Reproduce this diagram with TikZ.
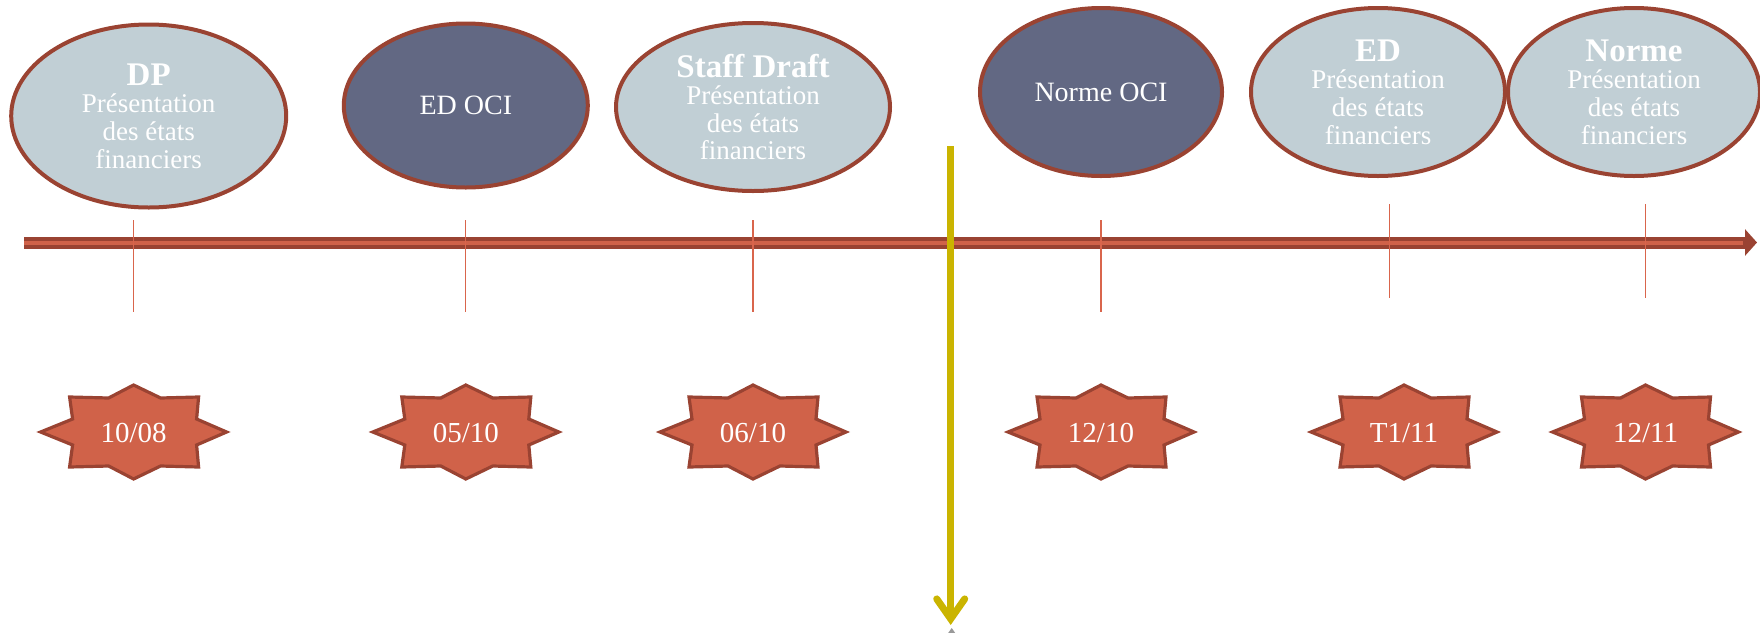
\documentclass[tikz,border=0pt]{standalone}
\usepackage{fontspec}
\setmainfont{Liberation Serif}
\usetikzlibrary{shapes.geometric,arrows.meta}
\definecolor{bordred}{HTML}{9A4332}
\definecolor{lightfill}{HTML}{C1CFD5}
\definecolor{darkfill}{HTML}{626883}
\definecolor{starfill}{HTML}{D06249}
\definecolor{tickred}{HTML}{D9654C}
\definecolor{yel}{HTML}{CAB400}
\newcommand\evttitle[1]{{\fontsize{16.5}{16}\selectfont\bfseries #1}}
\tikzset{
  evt/.style={ellipse, draw=bordred, line width=2pt, inner sep=0pt, text=white, align=center,
    font=\fontsize{13.5}{13.8}\selectfont},
  evtlight/.style={evt, fill=lightfill},
  evtdark/.style={evt, fill=darkfill, font=\fontsize{14}{16}\selectfont},
  datelbl/.style={text=white, inner sep=0pt, font=\fontsize{14.5}{15}\selectfont},
  starpoly/.style={draw=bordred, fill=starfill, line width=1.6pt, line join=miter},
  tickline/.style={draw=tickred, line width=0.6pt}
}
\begin{document}
\begin{tikzpicture}[x=0.5pt,y=-0.5pt]
\useasboundingbox (0,0) rectangle (1760,632);
% ellipses
\node[evtlight, minimum width=137.5pt, minimum height=91.5pt] (e1) at (148.7,116)
  {\evttitle{DP}\\Présentation\\des états\\financiers};
\node[evtdark, minimum width=122pt, minimum height=82pt] (e2) at (465.8,105.5) {ED OCI};
\node[evtlight, minimum width=137pt, minimum height=84pt] (e3) at (753,107)
  {\evttitle{Staff Draft}\\Présentation\\des états\\financiers};
\node[evtdark, minimum width=121pt, minimum height=84pt] (e4) at (1101,92) {Norme OCI};
\node[evtlight, minimum width=127pt, minimum height=84pt] (e5) at (1378,92)
  {\evttitle{ED}\\Présentation\\des états\\financiers};
\node[evtlight, minimum width=126pt, minimum height=84pt] (e6) at (1634,92)
  {\evttitle{Norme}\\Présentation\\des états\\financiers};
% axis
\coordinate (axS) at (24,242.5);
\coordinate (axE) at (1757,242.5);
\draw[bordred, line width=6pt, -{Triangle[length=6pt,width=13pt]}] (axS) -- (axE);
\draw[starfill, line width=2pt, shorten >=7pt] (axS) -- (axE);
% ticks
\foreach \x in {133.6,465.8,753,1101} \draw[tickline] (\x,220) -- (\x,312);
\foreach \x in {1389.6,1645.5} \draw[tickline] (\x,204) -- (\x,297.5);
% stars
\foreach \n/\x/\t in {s1/133.6/10\slash 08, s2/465.8/05\slash 10, s3/753/06\slash 10, s4/1101/12\slash 10, s5/1404/T1\slash 11, s6/1645.5/12\slash 11}{
  \begin{scope}[shift={(\x,432)}]
  \draw[starpoly] (-93,0) -- (-61,-13) -- (-64,-35) -- (-25,-34) -- (0,-47) -- (27,-34) -- (65,-35) -- (63,-13)
    -- (93,0) -- (63,13) -- (65,35) -- (27,34) -- (0,47) -- (-25,34) -- (-64,35) -- (-61,13) -- cycle;
  \end{scope}
  \node[datelbl] (\n) at (\x,433) {\t};
}
% yellow arrow
\coordinate (yS) at (950.7,146);
\coordinate (yE) at (950.7,625);
\draw[gray!80, line width=3.2pt, line cap=round, -{Straight Barb[length=10pt,width=14pt,line cap=round]}, transform canvas={xshift=0.5pt,yshift=-1.5pt}] ([yshift=-30pt]yE) -- (yE);
\draw[yel, line width=3.5pt, -{Straight Barb[length=10pt,width=14pt,line cap=round]}] (yS) -- (yE);
\end{tikzpicture}
\end{document}
